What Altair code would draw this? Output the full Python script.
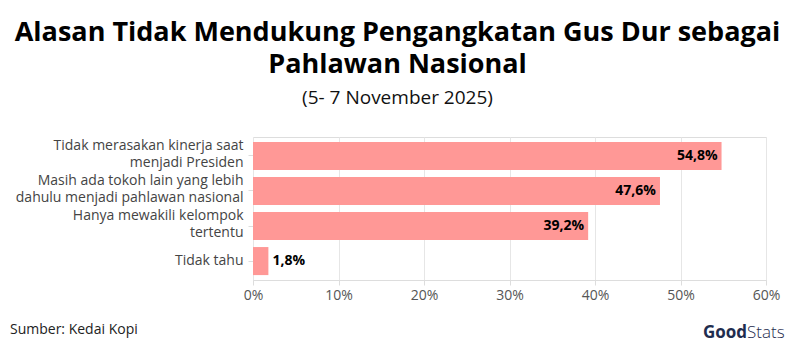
import altair as alt
import pandas as pd

categories = [
    "Tidak merasakan kinerja saat\nmenjadi Presiden",
    "Masih ada tokoh lain yang lebih\ndahulu menjadi pahlawan nasional",
    "Hanya mewakili kelompok\ntertentu",
    "Tidak tahu",
]
values = [54.8, 47.6, 39.2, 1.8]
tick_values = [0, 10, 20, 30, 40, 50, 60]
title_lines = ["Alasan Tidak Mendukung Pengangkatan Gus Dur sebagai", "Pahlawan Nasional"]
subtitle = "(5- 7 November 2025)"
source = "Sumber: Kedai Kopi"

df = pd.DataFrame({
    "cat": categories,
    "val": values,
    "lbl": [f"{v:.1f}".replace(".", ",") + "%" for v in values],
})

FONT = "Open Sans"
LFONT = "Open Sans"
W, H = 513, 143

x_enc = alt.X("val:Q", scale=alt.Scale(domain=[0, 60], nice=False),
              axis=alt.Axis(values=tick_values, labelExpr="datum.value + '%'", title=None,
                            grid=True, gridColor="#e6e6e6", domainColor="#dddddd",
                            tickColor="#dddddd", tickSize=5, labelColor="#555555",
                            labelFontSize=14, labelFont=LFONT, labelPadding=3,
                            labelFlush=False))
y_enc = alt.Y("cat:N", sort=categories, title=None,
              scale=alt.Scale(paddingInner=0.2, paddingOuter=0.14),
              axis=alt.Axis(labelExpr="split(datum.label, '\\n')", labelLimit=300,
                            labelFontSize=14, labelFont=LFONT, labelColor="#444444",
                            domain=False, tickColor="#dddddd", tickSize=5,
                            labelPadding=5, labelLineHeight=17,
                            labelOffset={"condition": {"test": "indexof(datum.value, '\\n') >= 0",
                                                       "value": -10},
                                         "value": 0}))

base = alt.Chart(df)
bars = base.mark_bar(color="#ff9896").encode(x=x_enc, y=y_enc)
inside = base.transform_filter("datum.val > 10").mark_text(
    align="right", dx=-4, fontWeight="bold", fontSize=14, font=LFONT, color="#000000"
).encode(x="val:Q", y=alt.Y("cat:N", sort=categories), text="lbl:N")
outside = base.transform_filter("datum.val <= 10").mark_text(
    align="left", dx=4, fontWeight="bold", fontSize=14, font=LFONT, color="#000000"
).encode(x="val:Q", y=alt.Y("cat:N", sort=categories), text="lbl:N")

src = alt.Chart(pd.DataFrame({"t": [source]})).mark_text(
    align="left", baseline="middle", fontSize=14, font=FONT, color="#222222"
).encode(x=alt.value(-243), y=alt.value(193), text="t:N")
logo1 = alt.Chart(pd.DataFrame({"t": ["Good"]})).mark_text(
    align="right", baseline="middle", fontSize=17, font=FONT, fontWeight="bold", color="#1f2d4f"
).encode(x=alt.value(494), y=alt.value(196), text="t:N")
logo2 = alt.Chart(pd.DataFrame({"t": ["Stats"]})).mark_text(
    align="left", baseline="middle", fontSize=17, font=FONT, fontWeight=300, color="#1f2d4f"
).encode(x=alt.value(494), y=alt.value(196), text="t:N")

chart = alt.layer(bars, inside, outside, src, logo1, logo2).properties(
    width=W, height=H,
    title=alt.TitleParams(text=title_lines, subtitle=subtitle, anchor="middle", dx=-112,
                          font=FONT, fontSize=27, fontWeight="bold", color="#000000",
                          lineHeight=32, subtitleFont=FONT, subtitleFontSize=19,
                          subtitleColor="#111111", subtitlePadding=10, offset=28),
    autosize=alt.AutoSizeParams(type="none"),
    padding={"left": 253, "top": 137, "right": 28, "bottom": 74},
).configure_view(stroke=None).configure(background="#ffffff")

chart.save("out.html", embed_options={"renderer": "svg", "actions": False})
